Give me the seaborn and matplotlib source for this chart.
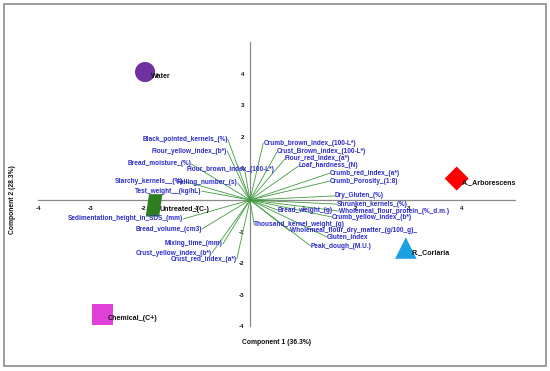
import numpy as np
import pandas as pd
import matplotlib
matplotlib.use("Agg")
import matplotlib.pyplot as plt
import seaborn as sns
from matplotlib.patches import Rectangle

# ---------------- data ----------------
treatments = ["Water", "Untreated_(C-)", "A._Arborescens", "R._Coriaria", "Chemical_(C+)"]
score_x = [-1.98, -1.81, 3.90, 2.94, -2.78]
score_y = [4.05, -0.17, 0.68, -1.52, -3.62]

variables = [
    "Black_pointed_kernels_(%)", "Flour_yellow_index_(b*)", "Bread_moisture_(%)",
    "Flour_brown_index_(100-L*)", "Starchy_kernels__(%)", "Falling_number_(s)",
    "Test_weight__(kg/hL)", "Sedimentation_height_in_SDS_(mm)", "Bread_volume_(cm3)",
    "Mixing_time_(mm)", "Crust_yellow_index_(b*)", "Crust_red_index_(a*)",
    "Crumb_brown_index_(100-L*)", "Crust_Brown_index_(100-L*)", "Flour_red_index_(a*)",
    "Loaf_hardness_(N)", "Crumb_red_index_(a*)", "Crumb_Porosity_(1:8)",
    "Dry_Gluten_(%)", "Shrunken_kernels_(%)", "Bread_weight_(g)",
    "Wholemeal_flour_protein_(%_d.m.)", "Crumb_yellow_index_(b*)",
    "Thousand_kernel_weight_(g)", "Wholemeal_flour_dry_matter_(g/100_g)_",
    "Gluten_index", "Peak_dough_(M.U.)",
]
load_x = [-0.42, -0.43, -1.11, -0.10, -1.26, -0.23, -0.91, -1.26, -0.91, -0.51, -0.72, -0.25,
          0.25, 0.51, 0.66, 0.92, 1.51, 1.51, 1.60, 1.64, 0.53, 1.68, 1.55, 0.08, 0.75, 1.45, 1.15]
load_y = [1.93, 1.55, 1.14, 0.95, 0.60, 0.54, 0.28, -0.60, -0.92, -1.39, -1.68, -1.87,
          1.80, 1.52, 1.30, 1.08, 0.85, 0.60, 0.13, -0.13, -0.32, -0.35, -0.54, -0.79, -0.98, -1.17, -1.46]

axis_ticks = [-4, -3, -2, -1, 1, 2, 3, 4]
x_title = "Component 1 (36.3%)"
y_title = "Component 2 (28.3%)"

# ---------------- style ----------------
sns.set_style("white")
plt.rcParams["font.family"] = ["Liberation Sans", "DejaVu Sans"]

W, H = 550, 371
fig = plt.figure(figsize=(W / 100, H / 100), dpi=100)
ax = fig.add_axes([0, 0, 1, 1])
ax.patch.set_alpha(0)

# pixel mapping: px = 250 + 53*x ; py = 200 - 31.6*y
ax.set_xlim(-250 / 53, 300 / 53)
ax.set_ylim(-(H - 200) / 31.6, 200 / 31.6)

# loading lines
line_rows = []
for v, lx, ly in zip(variables, load_x, load_y):
    line_rows.append({"var": v, "t": 0, "x": 0.0, "y": 0.0})
    line_rows.append({"var": v, "t": 1, "x": lx, "y": ly})
lines_df = pd.DataFrame(line_rows)
sns.lineplot(data=lines_df, x="x", y="y", units="var", estimator=None, sort=False,
             color="#3f9a3f", linewidth=0.6, ax=ax, legend=False, zorder=2)

# loading labels
label_color = "#2d2dc8"
nudge = {"Flour_brown_index_(100-L*)": (30, 0)}
for v, lx, ly in zip(variables, load_x, load_y):
    ha = "right" if lx < 0 else "left"
    dx, dy = nudge.get(v, (0, 0))
    ax.annotate(v, (lx, ly), xytext=(dx * 0.72, -dy * 0.72), textcoords="offset points",
                ha=ha, va="center", fontsize=4.7, fontweight="bold", color=label_color, zorder=4)

# treatment scores
scores = pd.DataFrame({"t": treatments, "x": score_x, "y": score_y})
para = [(-0.75, -1.0), (0.45, -1.0), (0.75, 1.0), (-0.45, 1.0)]
palette = {"Water": "#7030a0", "Untreated_(C-)": "#2e7d1f", "A._Arborescens": "#ff0000",
           "R._Coriaria": "#1ba1e2", "Chemical_(C+)": "#e040d8"}
markers = {"Water": "o", "Untreated_(C-)": para, "A._Arborescens": "D",
           "R._Coriaria": "^", "Chemical_(C+)": "s"}
sizes = {"Water": 210, "Untreated_(C-)": 260, "A._Arborescens": 150,
         "R._Coriaria": 240, "Chemical_(C+)": 230}
sns.scatterplot(data=scores, x="x", y="y", hue="t", style="t", size="t",
                palette=palette, markers=markers, sizes=sizes, linewidth=0,
                legend=False, ax=ax, zorder=3)
for t, sx, sy in zip(treatments, score_x, score_y):
    ax.annotate(t, (sx, sy), xytext=(4.0, -3.2), textcoords="offset points",
                ha="left", va="center", fontsize=5.1, fontweight="bold", color="#111111", zorder=5)

# axes through origin
for side in ["top", "right"]:
    ax.spines[side].set_visible(False)
ax.spines["left"].set_position(("data", 0))
ax.spines["bottom"].set_position(("data", 0))
ax.spines["left"].set_bounds(-4, 5)
ax.spines["bottom"].set_bounds(-4, 5)
for side in ["left", "bottom"]:
    ax.spines[side].set_color("#8a8a8a")
    ax.spines[side].set_linewidth(0.9)
    ax.spines[side].set_zorder(1)
ax.set_xticks(axis_ticks)
ax.set_yticks(axis_ticks)
ax.set_xticklabels([str(t) for t in axis_ticks])
ax.set_yticklabels([str(t) for t in axis_ticks])
ax.tick_params(axis="both", direction="out", length=2.5, width=0.7, color="#8a8a8a",
               labelsize=4.5, pad=1.5, labelcolor="#111111")
for lab in ax.get_xticklabels() + ax.get_yticklabels():
    lab.set_fontweight("bold")
ax.set_xlabel("")
ax.set_ylabel("")

fig.text(277 / W, 1 - 343 / H, x_title, ha="center", va="center",
         fontsize=4.9, fontweight="bold", color="#111111")
fig.text(12 / W, 1 - 200 / H, y_title, ha="center", va="center", rotation=90,
         fontsize=4.9, fontweight="bold", color="#111111")

# outer frame
fig.patches.append(Rectangle((3.5 / W, 1 - 366 / H), 542.5 / W, 362 / H,
                             transform=fig.transFigure, fill=False,
                             edgecolor="#8c8c8c", linewidth=1.2))

fig.savefig("out.png", dpi=100)
